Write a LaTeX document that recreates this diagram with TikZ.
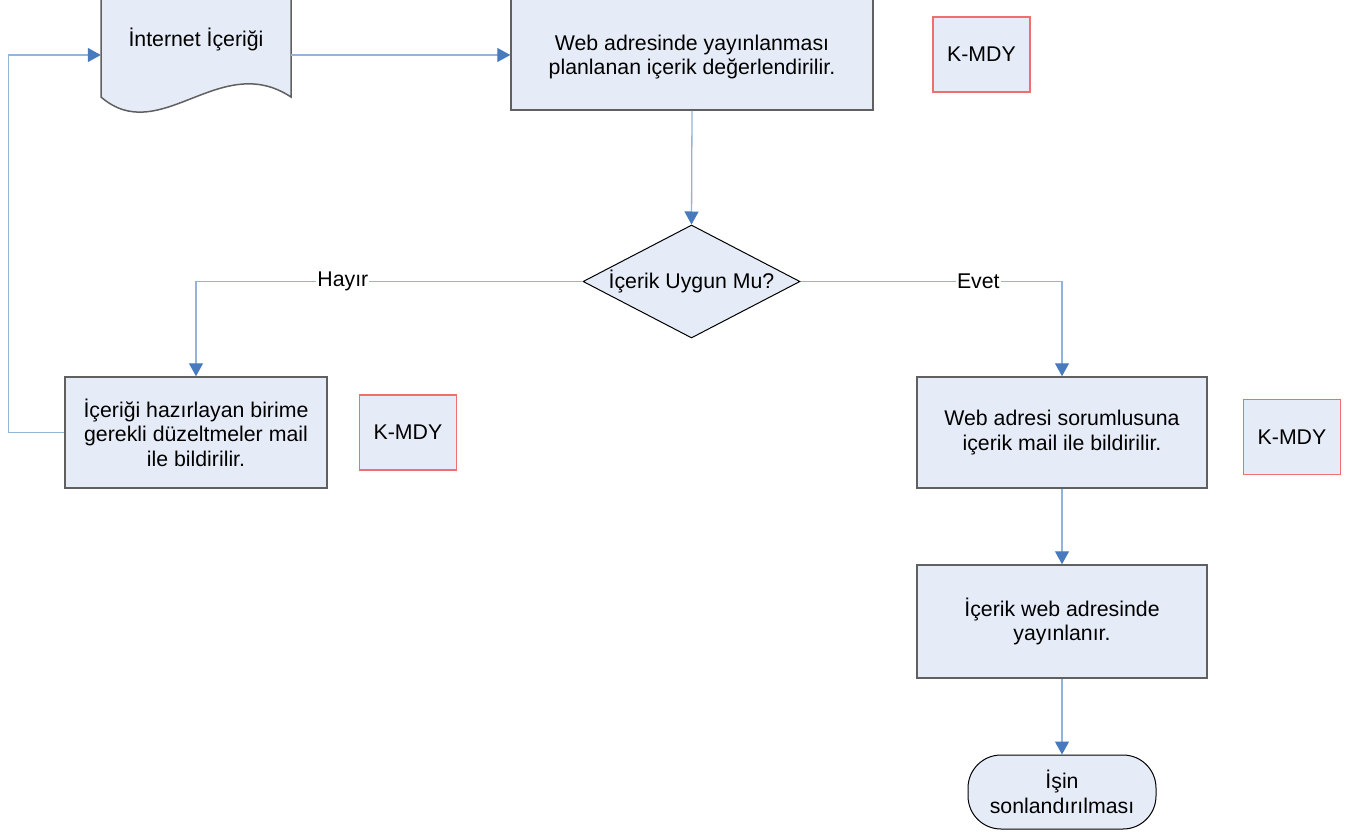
\documentclass[tikz,border=0pt]{standalone}
\usepackage{fontspec}
\setmainfont{Liberation Sans}
\usetikzlibrary{arrows.meta,shapes.geometric}
\definecolor{boxfill}{RGB}{230,236,247}
\definecolor{boxline}{RGB}{96,96,96}
\definecolor{connc}{RGB}{149,179,215}
\definecolor{tipc}{RGB}{72,122,190}
\definecolor{kred}{RGB}{240,110,110}
\begin{document}
\begin{tikzpicture}[x=1pt,y=-1pt,
 every node/.style={font=\fontsize{21.3}{24.5}\selectfont, align=center, inner sep=0pt},
 box/.style={draw=boxline, fill=boxfill, line width=1.5pt},
 kbox/.style={draw=kred, fill=boxfill, line width=1.5pt, minimum width=97pt, minimum height=75pt},
 conn/.style={draw=connc, line width=1.3pt},
 arr/.style={conn, -{Triangle[length=13pt,width=14pt,color=tipc]}},
 lbl/.style={fill=white, inner xsep=1pt, inner ysep=2pt}]
\useasboundingbox (0,0) rectangle (1362,835);
\fill[white] (0,0) rectangle (1362,835);

% document shape
\filldraw[box] (101,-10) -- (101,97) .. controls (160,148) and (220,50) .. (291,97) -- (291,-10) -- cycle;
\node[minimum width=190pt, minimum height=110pt] (doc) at (196,55) {};
\node (doctxt) at (196,40) {İnternet İçeriği};

% top box
\node[box, minimum width=362pt, minimum height=125pt] (web) at (692,47.5) {};
\node (webtxt) at (692,57) {Web adresinde yayınlanması\\planlanan içerik değerlendirilir.};

\node[kbox] (k1) at (981.5,54.5) {K-MDY};

% decision
\node[diamond, aspect=1.92, draw=black, fill=boxfill, line width=1pt, minimum width=217pt, minimum height=113pt] (dec) at (691.5,281.5) {İçerik Uygun Mu?};

% left branch
\node[box, minimum width=262pt, minimum height=111pt] (left) at (196,432.5) {İçeriği hazırlayan birime\\gerekli düzeltmeler mail\\ile bildirilir.};
\node[kbox] (k2) at (408,432.5) {K-MDY};

% right branch
\node[box, minimum width=290pt, minimum height=111pt] (right) at (1062,432.5) {Web adresi sorumlusuna\\içerik mail ile bildirilir.};
\node[kbox] (k3) at (1292,437) {K-MDY};

\node[box, minimum width=290pt, minimum height=113pt] (pub) at (1062,621.5) {İçerik web adresinde\\yayınlanır.};

\node[draw=black, fill=boxfill, line width=1pt, rounded corners=33pt, minimum width=188pt, minimum height=74pt] (term) at (1062,792) {İşin\\sonlandırılması};

% connectors
\draw[arr] (doc.east) -- (doc.east -| web.west);
\draw[arr] (web.south) -- (dec.north);
\draw[arr] (dec.west) -| node[lbl, pos=0.31] {Hayır} (left.north);
\draw[arr] (dec.east) -| node[lbl, pos=0.34] {Evet} (right.north);
\draw[arr] (right.south) -- (pub.north);
\draw[arr] (pub.south) -- (term.north);
\draw[arr] (left.west) -- ++(-56,0) |- (doc.west);
\end{tikzpicture}
\end{document}
